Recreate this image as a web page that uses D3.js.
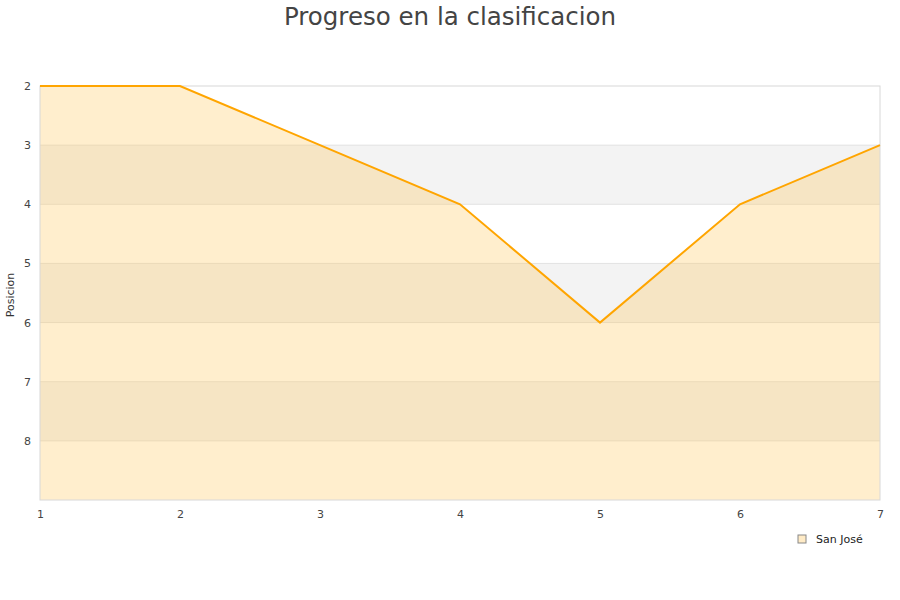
<!DOCTYPE html>
<html>
<head>
<meta charset="utf-8">
<script src="https://cdn.jsdelivr.net/npm/d3@7"></script>
<style>
  body { margin: 0; background: #fff; }
  text { font-family: "DejaVu Sans", sans-serif; }
</style>
</head>
<body>
<div id="chart"></div>
<script>
const jornadas = [1, 2, 3, 4, 5, 6, 7];
const posiciones = [2, 2, 3, 4, 6, 4, 3];
const yTicks = [2, 3, 4, 5, 6, 7, 8];
const equipo = "San José";

const width = 900, height = 600;
const margin = { top: 86, right: 20, bottom: 100, left: 40 };

const svg = d3.select("#chart").append("svg")
    .attr("width", width)
    .attr("height", height);

const x = d3.scaleLinear().domain([1, 7]).range([margin.left, width - margin.right]);
const y = d3.scaleLinear().domain([2, 9]).range([margin.top, height - margin.bottom]);

// alternating bands
const bands = d3.range(2, 9);
svg.append("g").selectAll("rect")
    .data(bands)
    .join("rect")
    .attr("x", x(1))
    .attr("width", x(7) - x(1))
    .attr("y", d => y(d))
    .attr("height", d => y(d + 1) - y(d))
    .attr("fill", d => d % 2 === 1 ? "#f3f3f3" : "#ffffff");

// grid lines
svg.append("g").selectAll("line")
    .data(yTicks.slice(1))
    .join("line")
    .attr("x1", x(1)).attr("x2", x(7))
    .attr("y1", d => y(d)).attr("y2", d => y(d))
    .attr("stroke", "#e2e2e2");

// area
const pts = jornadas.map((j, i) => [j, posiciones[i]]);
svg.append("path")
    .datum(pts)
    .attr("fill", "rgb(255, 200, 90)")
    .attr("fill-opacity", 0.3)
    .attr("d", d3.area().x(d => x(d[0])).y0(y(9)).y1(d => y(d[1])));

// frame
svg.append("rect")
    .attr("x", x(1)).attr("y", y(2))
    .attr("width", x(7) - x(1)).attr("height", y(9) - y(2))
    .attr("fill", "none")
    .attr("stroke", "#d8d8d8");

// line
svg.append("path")
    .datum(pts)
    .attr("fill", "none")
    .attr("stroke", "#ffa500")
    .attr("stroke-width", 2)
    .attr("d", d3.line().x(d => x(d[0])).y(d => y(d[1])));

// axes
const yAxis = svg.append("g")
    .attr("transform", `translate(${margin.left},0)`)
    .call(d3.axisLeft(y).tickValues(yTicks).tickFormat(d3.format("d")).tickSize(0).tickPadding(9));
yAxis.select(".domain").remove();
yAxis.selectAll("text").attr("font-size", 11).attr("fill", "#444").attr("font-family", "DejaVu Sans");

const xAxis = svg.append("g")
    .attr("transform", `translate(0,${height - margin.bottom})`)
    .call(d3.axisBottom(x).tickValues(jornadas).tickFormat(d3.format("d")).tickSize(0).tickPadding(10));
xAxis.select(".domain").remove();
xAxis.selectAll("text").attr("font-size", 11).attr("fill", "#444").attr("font-family", "DejaVu Sans");

// y axis title
svg.append("text")
    .attr("transform", `translate(14,${(y(2) + y(9)) / 2 + 2}) rotate(-90)`)
    .attr("text-anchor", "middle")
    .attr("font-size", 11)
    .attr("fill", "#333")
    .text("Posicion");

// title
svg.append("text")
    .attr("x", width / 2)
    .attr("y", 25)
    .attr("text-anchor", "middle")
    .attr("font-family", "Liberation Sans, Arial, sans-serif")
    .attr("font-size", 24.5)
    .attr("fill", "#444")
    .text("Progreso en la clasificacion");

// legend
const legend = svg.append("g").attr("transform", "translate(798,535)");
legend.append("rect")
    .attr("width", 8).attr("height", 8)
    .attr("fill", "#ffebc6")
    .attr("stroke", "#888");
legend.append("text")
    .attr("x", 18).attr("y", 8)
    .attr("font-size", 11)
    .attr("fill", "#222")
    .text(equipo);
</script>
</body>
</html>
